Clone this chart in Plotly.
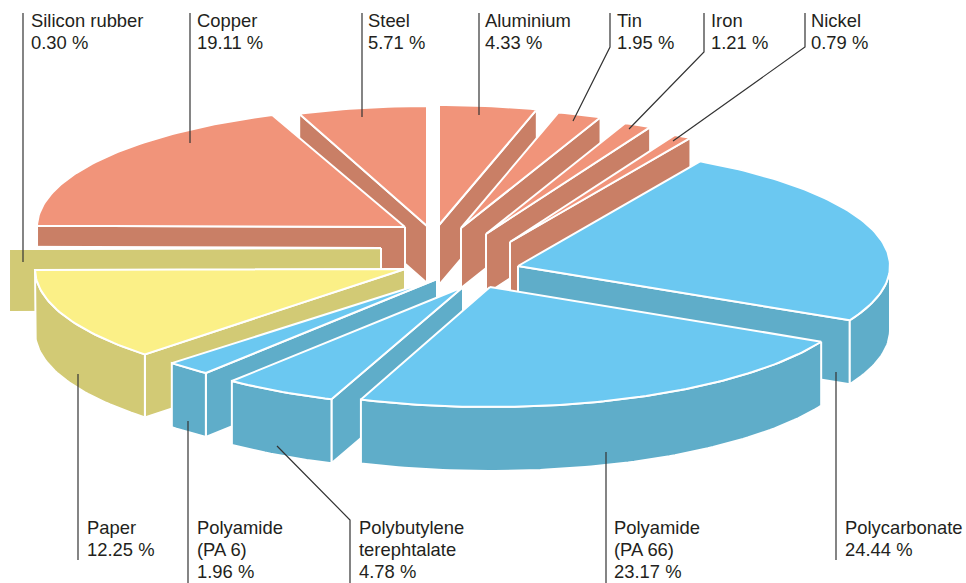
import math
import plotly.graph_objects as go

# ---------- data ----------
materials = ["Aluminium", "Tin", "Iron", "Nickel", "Polycarbonate", "Polyamide (PA 66)",
             "Polybutylene terephtalate", "Polyamide (PA 6)", "Paper", "Silicon rubber",
             "Copper", "Steel"]
shares = [4.33, 1.95, 1.21, 0.79, 24.44, 23.17, 4.78, 1.96, 12.25, 0.30, 19.11, 5.71]
label_lines = [["Aluminium"], ["Tin"], ["Iron"], ["Nickel"], ["Polycarbonate"],
               ["Polyamide", "(PA 66)"], ["Polybutylene", "terephtalate"],
               ["Polyamide", "(PA 6)"], ["Paper"], ["Silicon rubber"], ["Copper"], ["Steel"]]
groups = ["metal", "metal", "metal", "metal", "plastic", "plastic", "plastic", "plastic",
          "paper", "paper", "metal", "metal"]

# ---------- styling / layout (exploded-pie projection) ----------
TOP = {"metal": "#F1947A", "plastic": "#6BC8F1", "paper": "#FBF087"}
SIDE = {"metal": "#C97F66", "plastic": "#5FADC9", "paper": "#D2CA75"}
apex = {"Aluminium": (439, 225), "Tin": (461, 228), "Iron": (486, 234), "Nickel": (510, 242),
        "Polycarbonate": (518, 266), "Polyamide (PA 66)": (490, 287),
        "Polybutylene terephtalate": (463, 287), "Polyamide (PA 6)": (437, 279),
        "Paper": (405, 269), "Silicon rubber": (381, 248), "Copper": (405, 227), "Steel": (427, 226)}
radius_x = {"Aluminium": 364, "Tin": 363, "Iron": 362, "Nickel": 363, "Polycarbonate": 372,
            "Polyamide (PA 66)": 372, "Polybutylene terephtalate": 372, "Polyamide (PA 6)": 372,
            "Paper": 370, "Silicon rubber": 372, "Copper": 368, "Steel": 364}
# small angular corrections (degrees) of the drawn cut edges: (start, end)
nudge = {"Polycarbonate": (-0.5, -0.9), "Polyamide (PA 66)": (-0.7, -0.9),
         "Polybutylene terephtalate": (-0.5, 0), "Paper": (-0.8, 0), "Copper": (0, -0.6)}
RADIUS_Y = 120
depth = {"metal": 60, "plastic": 64, "paper": 63}
depth_override = {"Steel": 57}
paint_order = ["Aluminium", "Tin", "Iron", "Nickel", "Polycarbonate", "Steel", "Copper",
               "Silicon rubber", "Paper", "Polyamide (PA 6)", "Polybutylene terephtalate",
               "Polyamide (PA 66)"]
label_pos = {"Silicon rubber": (30, 20), "Copper": (196, 20), "Steel": (367, 20),
             "Aluminium": (484, 20), "Tin": (616, 20), "Iron": (710, 20), "Nickel": (810, 20),
             "Paper": (86, 527), "Polyamide (PA 6)": (196, 527),
             "Polybutylene terephtalate": (358, 527), "Polyamide (PA 66)": (613, 527),
             "Polycarbonate": (844, 527)}
LINE_STEP = 22
leaders = {"Silicon rubber": [(23, 13), (23, 262)], "Copper": [(190, 13), (190, 143)],
           "Steel": [(362, 13), (362, 117)], "Aluminium": [(479, 13), (479, 115)],
           "Tin": [(610, 13), (610, 47), (573, 121)], "Iron": [(704, 13), (704, 52), (629, 129)],
           "Nickel": [(805, 13), (805, 47), (673, 141)],
           "Paper": [(78, 374), (78, 560)], "Polyamide (PA 6)": [(188, 421), (188, 583)],
           "Polybutylene terephtalate": [(277, 446), (350, 520), (350, 583)],
           "Polyamide (PA 66)": [(606, 452), (606, 583)], "Polycarbonate": [(836, 372), (836, 560)]}
FONT = dict(family="Liberation Sans, Arial, sans-serif", size=18.4, color="#231F20")

# ---------- slice angles from the values ----------
total = sum(shares)
start = {}
acc = 0.0
for m, s in zip(materials, shares):
    n0, n1 = nudge.get(m, (0, 0))
    start[m] = (acc / total * 360 + n0, (acc + s) / total * 360 + n1)
    acc += s


def rim(m, deg, drop=0):
    cx, cy = apex[m]
    t = math.radians(deg)
    return cx + radius_x[m] * math.sin(t), cy - RADIUS_Y * math.cos(t) + drop


def arc(m, a, b, drop=0, step=1.0):
    n = max(2, int(abs(b - a) / step) + 1)
    return [rim(m, a + (b - a) * i / (n - 1), drop) for i in range(n)]


fig = go.Figure()


def poly(pts, color, name):
    fig.add_trace(go.Scatter(
        x=[p[0] for p in pts] + [pts[0][0]], y=[p[1] for p in pts] + [pts[0][1]],
        mode="lines", fill="toself", fillcolor=color,
        line=dict(color="white", width=2), name=name, hoverinfo="name", showlegend=False))


by_name = dict(zip(materials, groups))
for m in paint_order:
    g = by_name[m]
    d = depth_override.get(m, depth[g])
    a0, a1 = start[m]
    c = apex[m]
    # visible cut faces
    if a1 < 180:
        p = rim(m, a1)
        poly([c, p, (p[0], p[1] + d), (c[0], c[1] + d)], SIDE[g], m)
    if a0 > 180:
        p = rim(m, a0)
        poly([c, p, (p[0], p[1] + d), (c[0], c[1] + d)], SIDE[g], m)
    # visible outer wall
    lo, hi = max(a0, 90), min(a1, 270)
    if hi > lo:
        poly(arc(m, lo, hi) + arc(m, hi, lo, d), SIDE[g], m)
    # top face
    poly([c] + arc(m, a0, a1), TOP[g], m)

for m, pts in leaders.items():
    fig.add_trace(go.Scatter(x=[p[0] for p in pts], y=[p[1] for p in pts], mode="lines",
                             line=dict(color="#333333", width=1.2), hoverinfo="skip",
                             showlegend=False))

annotations = []
for m, s, lines in zip(materials, shares, label_lines):
    x, y = label_pos[m]
    for i, txt in enumerate(lines + [f"{s:.2f} %"]):
        annotations.append(dict(x=x, y=y + i * LINE_STEP, xref="x", yref="y", xanchor="left",
                                yanchor="middle", align="left", showarrow=False, borderpad=0,
                                font=FONT, text=txt))

fig.update_layout(
    width=966, height=583, autosize=False, margin=dict(l=0, r=0, t=0, b=0),
    paper_bgcolor="white", plot_bgcolor="white", annotations=annotations,
    xaxis=dict(range=[0, 966], visible=False, fixedrange=True),
    yaxis=dict(range=[583, 0], visible=False, fixedrange=True),
)
fig.write_html("out.html", config={"displayModeBar": False},
               post_script="document.body.style.margin='0';document.body.style.overflow='hidden';")
